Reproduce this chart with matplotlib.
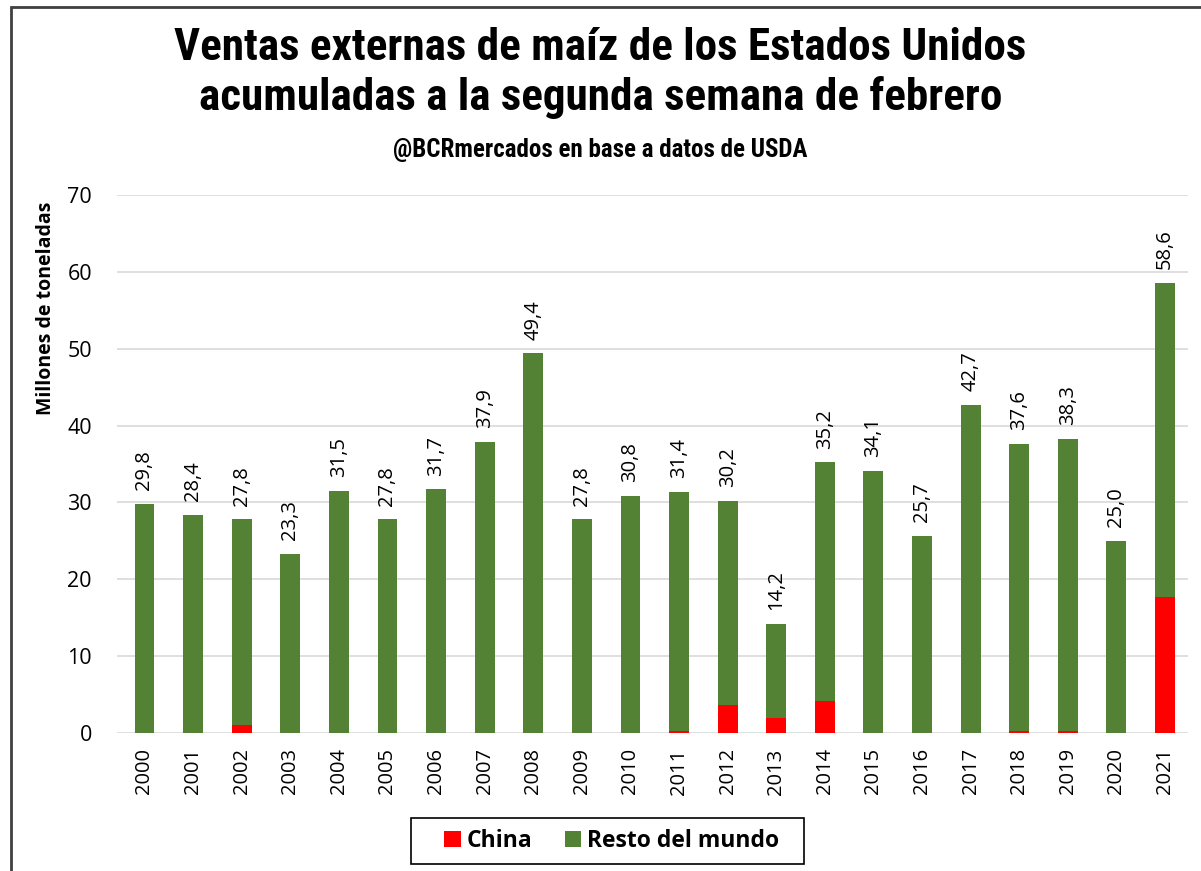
import matplotlib
matplotlib.use("Agg")
import matplotlib.pyplot as plt
from matplotlib import font_manager
from matplotlib.patches import Rectangle
import numpy as np

# Datos (millones de toneladas)
years = [str(y) for y in range(2000, 2022)]
totals = [29.8, 28.4, 27.8, 23.3, 31.5, 27.8, 31.7, 37.9, 49.4, 27.8, 30.8,
          31.4, 30.2, 14.2, 35.2, 34.1, 25.7, 42.7, 37.6, 38.3, 25.0, 58.6]
china = [0, 0, 1.0, 0, 0, 0, 0, 0, 0, 0, 0,
         0.2, 3.7, 2.0, 4.2, 0, 0, 0, 0.2, 0.2, 0, 17.7]
resto = [t - c for t, c in zip(totals, china)]

green = "#548235"
red = "#ff0000"
body_font = ["Open Sans", "DejaVu Sans"]

# fuente condensada para el título, si hay alguna
installed = {f.name for f in font_manager.fontManager.ttflist}
title_font = "DejaVu Sans"
for cand in ["Roboto Condensed", "Liberation Sans Narrow", "Open Sans Condensed",
             "DejaVu Sans Condensed"]:
    if cand in installed:
        title_font = cand
        break
title_kw = dict(family=[title_font, "DejaVu Sans"], weight="bold", fontstretch="condensed")

fig = plt.figure(figsize=(12.01, 8.71), dpi=100)
ax = fig.add_axes([0.0974, 0.1584, 0.8918, 0.6177])

x = np.arange(len(years))
w = 0.41
ax.bar(x, china, w, color=red, label="China", zorder=3)
ax.bar(x, resto, w, bottom=china, color=green, label="Resto del mundo", zorder=3)

for xi, t in zip(x, totals):
    ax.text(xi, t + 1.8, f"{t:.1f}".replace(".", ","), rotation=90,
            ha="center", va="bottom", fontsize=14.5, family=body_font, color="#000000")

ax.set_ylim(0, 70)
ax.set_xlim(-0.566, 21.473)
ax.set_yticks(range(0, 71, 10))
ax.set_xticks(x)
ax.set_xticklabels(years, rotation=90, fontsize=14.5, family=body_font)
for lab in ax.get_yticklabels():
    lab.set_fontsize(15.5)
    lab.set_family(body_font)
ax.tick_params(axis="both", length=0, colors="#000000")
ax.tick_params(axis="x", pad=11)
ax.tick_params(axis="y", pad=18)
ax.grid(axis="y", color="#d9d9d9", linewidth=1.2, zorder=0)
for s in ax.spines.values():
    s.set_visible(False)
ax.set_ylabel("Millones de toneladas", fontsize=14, family=body_font, weight="bold")
ax.yaxis.set_label_coords(-0.0567, 0.79)

leg = ax.legend(loc="center", bbox_to_anchor=(0.5096, 0.0344), bbox_transform=fig.transFigure,
                ncol=2, frameon=False,
                prop={"family": body_font, "size": 16.5, "weight": "bold"},
                handlelength=0.7, handleheight=0.7, columnspacing=1.45,
                borderpad=0.3, handletextpad=0.26)
# marco de la leyenda, algo más ancho que su contenido como en el original
fig.patches.append(Rectangle((0.3422, 0.008), 0.3272, 0.0528, transform=fig.transFigure,
                             fill=False, edgecolor="#000000", linewidth=1.2))

fig.text(0.5, 0.945, "Ventas externas de maíz de los Estados Unidos",
         ha="center", va="center", fontsize=32.5, **title_kw)
fig.text(0.5, 0.888, "acumuladas a la segunda semana de febrero",
         ha="center", va="center", fontsize=32.5, **title_kw)
fig.text(0.5, 0.828, "@BCRmercados en base a datos de USDA",
         ha="center", va="center", fontsize=18, **title_kw)

# marco exterior
fig.patches.append(Rectangle((0.009, -0.01), 1.1, 1.002, transform=fig.transFigure,
                             fill=False, edgecolor="#404040", linewidth=2))

fig.savefig("out.png", dpi=100)
